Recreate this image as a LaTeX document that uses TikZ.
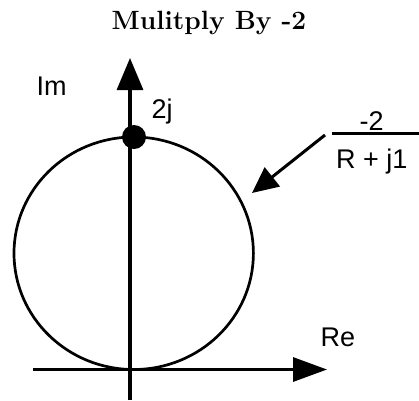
\documentclass[tikz,border=0pt]{standalone}
\usepackage{fontspec}
\newfontfamily\hv{Liberation Sans}
\usetikzlibrary{arrows.meta,shapes.geometric}
\begin{document}
\begin{tikzpicture}[x=1pt,y=-1pt,
  axis/.style={line width=3.2pt},
  lbl/.style={font=\hv\fontsize{27}{32}\selectfont, inner sep=0pt, anchor=base west},
  frac/.style={font=\hv\fontsize{27}{32}\selectfont, inner sep=0pt, anchor=base},
]
\useasboundingbox (0,0) rectangle (419,400);
\node[font=\bfseries\fontsize{26.4}{30}\selectfont, anchor=base, inner sep=0pt] (title) at (209,29.3) {Mulitply By -2};
\coordinate (vb) at (130,400);
\coordinate (vt) at (130,58);
\coordinate (hl) at (33,369.5);
\coordinate (hr) at (327,369.5);
\draw[axis,-{Triangle[length=32pt,width=26pt]}] (vb) -- (vt);
\draw[axis,-{Triangle[length=34pt,width=24pt]}] (hl) -- (hr);
\node[draw, ellipse, line width=2.7pt, minimum width=239.4pt, minimum height=232.5pt, inner sep=0pt] (circ) at (133.7,253.25) {};
\node[circle, fill, minimum size=24pt, inner sep=0pt] (dot) at (134,137) {};
\node[lbl] (im) at (36.5,95.5) {Im};
\node[lbl] (twoj) at (151.5,118.3) {2j};
\node[lbl] (re) at (320.5,346.7) {Re};
\node[frac] (num) at (371.7,130) {-2};
\node[frac] (den) at (371.7,168.3) {R + j1};
\coordinate (fl) at (331.7,133.3);
\coordinate (fr) at (419,133.3);
\draw[line width=3pt] (fl) -- (fr);
\coordinate (as) at (325,135);
\coordinate (at) at (252,193);
\draw[line width=3pt,-{Triangle[length=26pt,width=24pt]}] (as) -- (at);
\end{tikzpicture}
\end{document}
